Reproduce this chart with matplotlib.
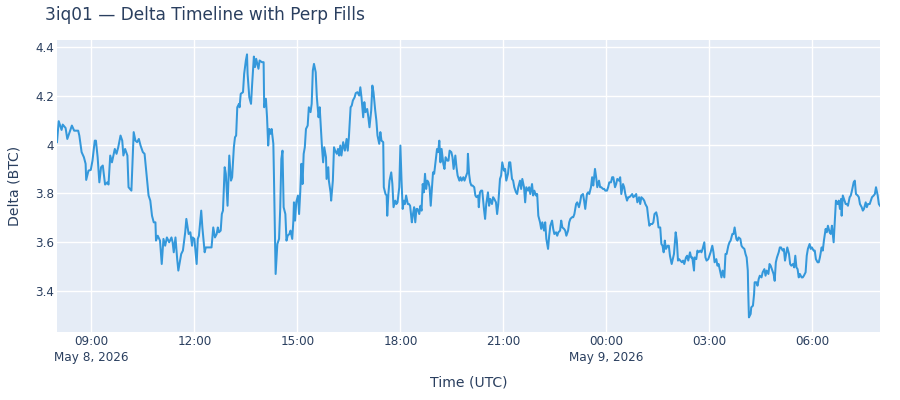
import numpy as np
import matplotlib
matplotlib.use("Agg")
import matplotlib.pyplot as plt
import matplotlib.dates as mdates
from matplotlib.ticker import FuncFormatter

# ---- data: minutes since 2026-05-08 08:00 UTC, delta in BTC ----
minutes = [
    0, 3, 8, 10, 15, 18, 22, 26, 30, 37, 39, 43, 47, 50, 51, 55, 59, 62, 66, 68, 71, 74, 77, 80, 84, 88, 90, 93, 96,
    101, 104, 107, 111, 114, 116, 119, 123, 125, 130, 134, 137, 140, 143, 146, 150, 153, 155, 160, 163, 166, 169,
    172, 173, 176, 180, 183, 186, 189, 192, 196, 200, 202, 204, 207, 210, 212, 217, 220, 224, 226, 230, 233, 236,
    237, 240, 244,
    246, 248, 252, 254, 258, 260, 265, 270, 273, 276, 279, 281, 283, 286, 288, 290, 293, 295, 297, 298, 301, 304,
    306, 309, 311, 313, 315, 318, 319, 321, 325, 327, 330, 332, 333, 336, 339, 341, 344, 346, 348, 352, 354, 358,
    361, 362, 365, 367, 369, 371, 373, 375, 378, 379, 381, 382, 385, 388, 390, 392, 394, 396, 399, 401, 403, 406,
    408, 411, 413, 414, 416, 418, 421, 423, 425, 427, 429, 431, 433, 435, 438, 440, 443, 445, 447, 449, 452, 454,
    457, 459, 461, 463, 465, 467, 470, 471, 474, 475, 478, 479, 482, 484, 486, 489, 491, 493, 495,
    497, 500, 503, 506, 508, 510, 513, 515, 517, 520, 522, 525, 528, 530, 532, 535, 537, 539, 542, 544, 546, 549,
    551, 553, 556, 558, 560, 563, 565, 567, 570, 571, 574, 576, 577, 579, 581, 584, 586, 588, 591, 593, 595, 598,
    600, 602, 604, 606, 608, 610, 613, 615, 617, 620, 622, 624, 626, 628, 630, 633, 635, 637, 639, 641, 643, 645,
    647, 649, 651, 653, 655, 657, 659, 662, 664, 666, 668, 670, 672, 675, 677, 679, 682, 684, 686, 689, 691, 693,
    696, 698, 700, 703, 705, 707, 710, 712, 714, 717, 718, 720, 722, 724, 726, 729, 731, 733, 736, 737, 739,
    741, 743, 746, 748, 750, 753, 755, 757, 760, 762, 764, 767, 769, 771, 774, 776, 778, 781, 783, 785, 788, 790,
    792, 795, 797, 799, 802, 804, 806, 809, 811, 813, 816, 818, 820, 823, 825, 827, 830, 832, 834, 837, 839, 841,
    844, 846, 848, 851, 853, 855, 858, 860, 862, 865, 867, 869, 872, 874, 876, 879, 881, 883, 886, 888, 890, 893,
    895, 897, 900, 902, 904, 907, 909, 912, 914, 916, 919, 921, 923, 926, 928, 930, 933, 935, 937, 940, 942, 944,
    947, 949, 951, 954, 956, 958, 961, 963, 965, 968, 970, 972, 975, 977, 979, 982, 984,
    986, 989, 991, 993, 996, 998, 1000, 1003, 1005, 1007, 1010, 1012, 1014, 1017, 1019, 1021, 1024, 1026, 1028,
    1031, 1033, 1035, 1037, 1040, 1042, 1044, 1047, 1049, 1051, 1054, 1056, 1058, 1060, 1062, 1064, 1067, 1069,
    1071, 1074, 1076, 1078, 1081, 1083, 1085, 1087, 1089, 1092, 1094, 1096, 1099, 1101, 1103, 1106, 1108, 1110,
    1113, 1114, 1117, 1119, 1121, 1124, 1126, 1128, 1131, 1133, 1135, 1138, 1140, 1142, 1145, 1147, 1149, 1152,
    1154, 1156, 1159, 1161, 1163, 1166, 1168, 1170, 1173, 1175, 1177, 1180, 1182, 1184, 1187, 1189, 1191, 1194,
    1196, 1198, 1201, 1203, 1205, 1207, 1208, 1209, 1212, 1213, 1216, 1218, 1219, 1222, 1224, 1226, 1228,
    1231, 1233, 1236, 1238, 1240, 1243, 1245, 1247, 1250, 1252, 1254, 1256, 1258, 1261, 1263, 1265, 1268, 1270,
    1272, 1274, 1276, 1279, 1281, 1283, 1286, 1288, 1290, 1292, 1294, 1296, 1298, 1301, 1303, 1305, 1308, 1310,
    1312, 1315, 1317, 1319, 1322, 1324, 1326, 1329, 1331, 1333, 1336, 1338, 1340, 1343, 1345, 1347, 1350, 1352,
    1354, 1357, 1359, 1361, 1364, 1366, 1368, 1370, 1371, 1373, 1375, 1378, 1380, 1382, 1385, 1387, 1389, 1392,
    1394, 1396, 1399, 1401, 1403, 1406, 1408, 1410, 1413, 1415, 1417, 1420, 1422, 1424, 1427, 1429, 1431, 1434,
    1436, 1438,
]

delta_btc = [
    4.010, 4.096, 4.060, 4.082, 4.068, 4.023, 4.051, 4.078, 4.057, 4.057, 4.037, 3.969, 3.948, 3.921, 3.855, 3.893,
    3.896, 3.934, 4.016, 4.016, 3.948, 3.845, 3.907, 3.914, 3.836, 3.845, 3.836, 3.955, 3.927, 3.982, 3.962, 3.989,
    4.037, 4.016, 3.955, 3.982, 3.955, 3.825, 3.811, 4.051, 4.016, 4.010, 4.023, 3.996, 3.969, 3.962, 3.914, 3.791,
    3.770, 3.708, 3.681, 3.681, 3.606, 3.626, 3.606, 3.510, 3.613, 3.585, 3.619, 3.599, 3.619, 3.599, 3.558, 3.619,
    3.530, 3.483, 3.551, 3.565, 3.640, 3.695, 3.633, 3.640, 3.585, 3.619, 3.613, 3.510,
    3.613, 3.626, 3.729, 3.660, 3.558, 3.578, 3.578, 3.578, 3.660, 3.619, 3.633, 3.660, 3.640, 3.647, 3.715, 3.729,
    3.907, 3.880, 3.797, 3.749, 3.955, 3.852, 3.866, 3.989, 4.030, 4.037, 4.153, 4.167, 4.153, 4.208, 4.215, 4.290,
    4.345, 4.370, 4.290, 4.194, 4.167, 4.249, 4.361, 4.318, 4.352, 4.311, 4.345, 4.338, 4.338, 4.153, 4.188, 4.112,
    3.996, 4.064, 4.044, 4.064, 4.003, 3.880, 3.599, 3.469, 3.592, 3.613, 3.736, 3.941, 3.975, 3.743, 3.715, 3.606,
    3.626, 3.633, 3.647, 3.613, 3.688, 3.763, 3.688, 3.763, 3.791, 3.715, 3.804, 3.921, 3.838, 3.962, 3.989, 4.064,
    4.078, 4.153, 4.133, 4.167, 4.304, 4.331, 4.297, 4.194, 4.112, 4.153, 4.071, 3.989, 3.927, 3.989, 3.948, 3.859,
    3.907, 3.852, 3.804, 3.770, 3.852, 3.989, 3.975, 3.962, 3.982, 3.955, 3.996,
    3.955, 4.010, 3.975, 4.023, 3.975, 4.030, 4.153, 4.160, 4.181, 4.194, 4.211, 4.215, 4.201, 4.235, 4.194, 4.112,
    4.174, 4.133, 4.146, 4.112, 4.071, 4.140, 4.242, 4.215, 4.140, 4.099, 4.037, 4.003, 4.051, 4.016, 4.010, 3.825,
    3.797, 3.791, 3.708, 3.797, 3.852, 3.886, 3.838, 3.743, 3.770, 3.756, 3.763, 3.825, 3.996, 3.852, 3.736, 3.770,
    3.756, 3.791, 3.756, 3.756, 3.749, 3.681, 3.715, 3.743, 3.681, 3.736, 3.736, 3.715, 3.749, 3.729, 3.838, 3.804,
    3.880, 3.818, 3.852, 3.845, 3.825, 3.749, 3.818, 3.886, 3.880, 3.941, 3.982, 3.969, 4.016, 3.927, 3.982, 3.921,
    3.900, 3.948, 3.934, 3.934, 3.975, 3.969, 3.948, 3.900, 3.955, 3.907, 3.873, 3.852, 3.866, 3.852, 3.866, 3.852,
    3.866, 3.886, 3.962, 3.880, 3.845, 3.832, 3.832, 3.825, 3.791, 3.784, 3.791, 3.743, 3.804,
    3.811, 3.811, 3.736, 3.695, 3.756, 3.804, 3.749, 3.777, 3.756, 3.784, 3.777, 3.763, 3.715, 3.756, 3.859, 3.873,
    3.927, 3.893, 3.900, 3.852, 3.880, 3.927, 3.927, 3.859, 3.852, 3.825, 3.804, 3.797, 3.825, 3.852, 3.818, 3.859,
    3.825, 3.763, 3.825, 3.811, 3.825, 3.797, 3.838, 3.791, 3.811, 3.791, 3.797, 3.708, 3.681, 3.654, 3.681, 3.647,
    3.681, 3.613, 3.572, 3.626, 3.667, 3.688, 3.654, 3.633, 3.640, 3.626, 3.640, 3.647, 3.688, 3.660, 3.654, 3.647,
    3.626, 3.647, 3.681, 3.695, 3.702, 3.702, 3.715, 3.756, 3.763, 3.743, 3.763, 3.791, 3.797, 3.770, 3.736, 3.797,
    3.804, 3.797, 3.825, 3.866, 3.832, 3.900, 3.866, 3.825, 3.852, 3.825, 3.825, 3.818, 3.818, 3.811, 3.811, 3.825,
    3.845, 3.845, 3.866, 3.866, 3.825, 3.838, 3.859, 3.852, 3.866,
    3.797, 3.838, 3.825, 3.797, 3.770, 3.784, 3.784, 3.791, 3.797, 3.784, 3.791, 3.797, 3.763, 3.784, 3.756, 3.784,
    3.777, 3.770, 3.756, 3.743, 3.702, 3.667, 3.674, 3.674, 3.681, 3.715, 3.722, 3.702, 3.660, 3.660, 3.592, 3.585,
    3.558, 3.606, 3.572, 3.585, 3.585, 3.544, 3.510, 3.530, 3.551, 3.640, 3.606, 3.524, 3.530, 3.524, 3.517, 3.524,
    3.510, 3.537, 3.544, 3.524, 3.558, 3.537, 3.537, 3.483, 3.537, 3.530, 3.565, 3.558, 3.565, 3.558, 3.572, 3.599,
    3.537, 3.524, 3.530, 3.544, 3.558, 3.585, 3.558, 3.517, 3.530, 3.503, 3.510, 3.476, 3.455, 3.483, 3.455, 3.551,
    3.551, 3.585, 3.599, 3.606, 3.633, 3.633, 3.660, 3.613, 3.606, 3.619, 3.613, 3.585, 3.578, 3.572, 3.551, 3.537,
    3.483, 3.373, 3.291, 3.305, 3.332, 3.339, 3.387, 3.435, 3.435, 3.421, 3.448, 3.462,
    3.455, 3.476, 3.489, 3.462, 3.483, 3.469, 3.510, 3.503, 3.483, 3.469, 3.441, 3.517, 3.537, 3.558, 3.578, 3.578,
    3.565, 3.572, 3.524, 3.551, 3.578, 3.551, 3.510, 3.503, 3.510, 3.496, 3.544, 3.496, 3.489, 3.455, 3.469, 3.455,
    3.455, 3.462, 3.476, 3.544, 3.572, 3.592, 3.572, 3.578, 3.565, 3.565, 3.530, 3.517, 3.517, 3.537, 3.578, 3.565,
    3.606, 3.654, 3.640, 3.667, 3.640, 3.633, 3.667, 3.599, 3.688, 3.770, 3.756, 3.770, 3.736, 3.777, 3.708, 3.791,
    3.777, 3.756, 3.756, 3.749, 3.784, 3.791, 3.811, 3.845, 3.852, 3.797, 3.791, 3.784, 3.756, 3.743, 3.729, 3.736,
    3.763, 3.743, 3.756, 3.756, 3.770, 3.784, 3.791, 3.797, 3.825, 3.791, 3.756, 3.749,
]

start_time = np.datetime64("2026-05-08T08:00")
title_text = "3iq01 \u2014 Delta Timeline with Perp Fills"
x_title = "Time (UTC)"
y_title = "Delta (BTC)"
y_ticks = [3.4, 3.6, 3.8, 4.0, 4.2, 4.4]

times = start_time + np.array(minutes).astype("timedelta64[m]")
vals = np.array(delta_btc)

TEXT = "#2a3f5f"
plt.rcParams["font.family"] = ["DejaVu Sans"]

W, H = 900, 400
fig = plt.figure(figsize=(W / 100, H / 100), dpi=100)
L, R, T, B = 57, 880, 40, 332
ax = fig.add_axes([L / W, 1 - B / H, (R - L) / W, (B - T) / H])
ax.set_facecolor("#E5ECF6")
for s in ax.spines.values():
    s.set_visible(False)

ax.plot(times, vals, color="#3498db", lw=1.45, solid_joinstyle="round", zorder=3)

ax.set_xlim(times[0], times[-1])
ax.set_ylim(3.231, 4.429)

ax.xaxis.set_major_locator(mdates.HourLocator(byhour=range(0, 24, 3)))

def xfmt(x, pos):
    d = mdates.num2date(x)
    s = d.strftime("%H:%M")
    if pos == 0 or (d.hour == 0 and d.minute == 0):
        s += "\n" + d.strftime("%b ") + str(d.day) + d.strftime(", %Y")
    return s

ax.xaxis.set_major_formatter(FuncFormatter(xfmt))
ax.set_yticks(y_ticks)
ax.yaxis.set_major_formatter(FuncFormatter(lambda v, p: f"{v:g}"))

ax.grid(True, color="white", lw=1.0, zorder=0)
ax.set_axisbelow(True)
ax.tick_params(axis="both", length=0, labelsize=8.64, labelcolor=TEXT)
ax.tick_params(axis="x", pad=2.5)
ax.tick_params(axis="y", pad=2)
for lab in ax.get_xticklabels():
    lab.set_linespacing(1.25)

fig.text(45 / W, 1 - 20 / H, title_text, fontsize=12.24, color=TEXT, ha="left", va="baseline")
fig.text((L + R) / 2 / W, 1 - 382 / H, x_title, fontsize=10.08, color=TEXT, ha="center", va="center")
fig.text(15 / W, 1 - (T + B) / 2 / H, y_title, fontsize=10.08, color=TEXT, ha="center", va="center", rotation=90)

fig.savefig("out.png", dpi=100, facecolor="white")
